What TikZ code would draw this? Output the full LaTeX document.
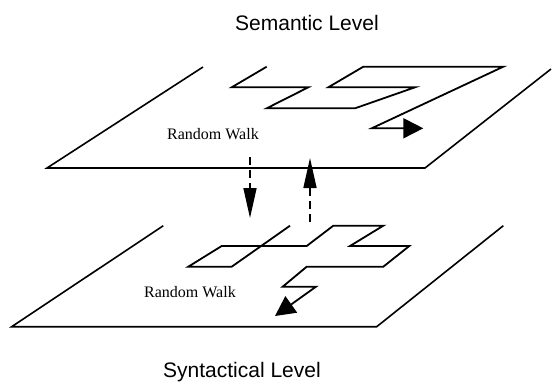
\documentclass[tikz,border=0pt]{standalone}
\usepackage{fontspec}
\setmainfont{Liberation Serif}
\setsansfont{Liberation Sans}
\usetikzlibrary{arrows.meta}
\begin{document}
\begin{tikzpicture}[x=1pt,y=-1pt, line join=miter,
  plane/.style={draw, line width=1.6pt},
  walk/.style={draw, line width=1.8pt, -{Triangle[length=20pt,width=20pt]}},
  link/.style={draw, line width=1.6pt, dash pattern=on 8pt off 5pt, -{Triangle[length=30pt,width=13pt]}},
  title/.style={font=\sffamily\fontsize{21}{25}\selectfont, anchor=base west, inner sep=0pt},
  wlabel/.style={font=\fontsize{16}{19}\selectfont, anchor=base west, inner sep=0pt}]
\useasboundingbox (0,0) rectangle (552,381);
% titles
\node[title] (sem) at (235,30) {Semantic Level};
\node[title] (syn) at (163,377) {Syntactical Level};
% top plane
\draw[plane] (203,67) -- (47,168) -- (425,168) -- (551,69);
% bottom plane
\draw[plane] (163.3,225.7) -- (11.7,326.7) -- (376.7,326.7) -- (503.3,225.7);
% labels
\node[wlabel] (rw1) at (167,139) {Random Walk};
\node[wlabel] (rw2) at (144,297.3) {Random Walk};
% top walk
\draw[walk] (266.7,66.7) -- (231.7,87.3) -- (308.3,87.3) -- (266.7,108.3) -- (355,108.3)
  -- (415,87.3) -- (328.3,87.3) -- (363.3,66.7) -- (503.3,66.7) -- (371.7,128.3) -- (423.3,128.3);
% bottom walk
\draw[walk] (290,225.7) -- (231.7,266.7) -- (188.3,266.7) -- (221.7,246) -- (306.7,246)
  -- (333.3,225.7) -- (383.3,225.7) -- (350,246) -- (409.3,246) -- (383.3,266.7)
  -- (306.7,266.7) -- (282.7,286.7) -- (316,286.7) -- (275,316);
% level links
\coordinate (dTop) at (250,157);
\coordinate (dBot) at (250,218);
\coordinate (uBot) at (310,222);
\coordinate (uTop) at (310,158);
\draw[link] (dTop) -- (dBot);
\draw[link] (uBot) -- (uTop);
\end{tikzpicture}
\end{document}
